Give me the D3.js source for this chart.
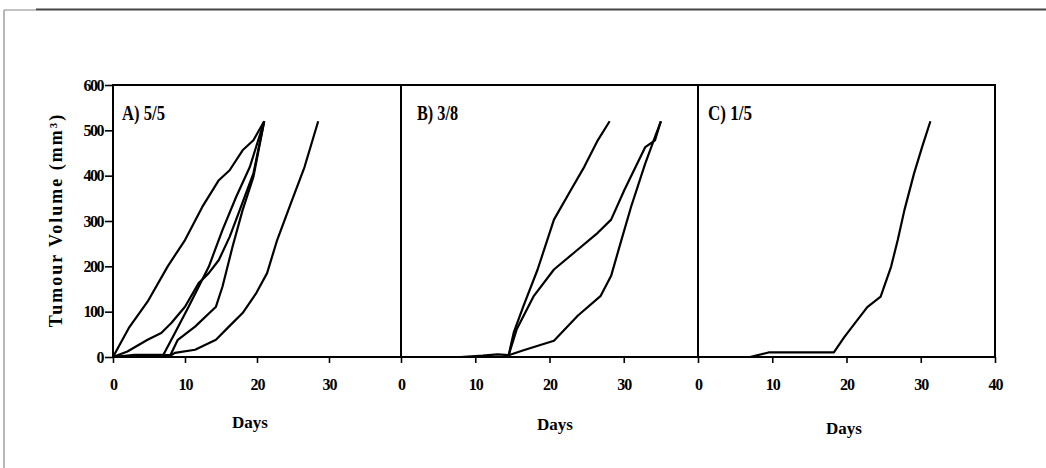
<!DOCTYPE html>
<html>
<head>
<meta charset="utf-8">
<script src="https://cdn.jsdelivr.net/npm/d3@7"></script>
<style>
  html, body { margin: 0; padding: 0; background: #fff; }
  svg { display: block; }
  text { font-family: "Liberation Serif", "Times New Roman", serif; font-weight: bold; fill: #000; }
</style>
</head>
<body>
<svg id="chart" width="1046" height="468"></svg>
<script>
// Tumour growth curves, days after inoculation vs volume (mm³)
const yTicks = [0, 100, 200, 300, 400, 500, 600];
const xTicksAB = [0, 10, 20, 30];
const xTicksC = [0, 10, 20, 30, 40];
const panelLabels = ["A) 5/5", "B) 3/8", "C) 1/5"];

// Panel A: five animals
const curveA1 = [[0,0],[2.2,64],[4.8,122],[7.6,200],[10,258],[12.4,331],[14.7,390],[16.2,412],[18,456],[19.5,478],[21,520]];
const curveA2 = [[0,0],[2,12],[4.8,38],[6.7,53],[8.1,75],[10,111],[11.9,163],[13.3,185],[14.7,214],[16.2,265],[17.6,324],[19.5,405],[21,520]];
const curveA3 = [[0,0],[3,5],[7,5],[8.6,53],[10.5,111],[11.9,155],[13.3,199],[15.2,280],[17.1,353],[19,419],[21,520]];
const curveA4 = [[0,0],[4,3],[8,5],[9,38],[11.4,67],[14.3,111],[15.2,155],[16.6,243],[18,324],[19.5,397],[21,520]];
const curveA5 = [[0,0],[8,3],[8.6,9],[11.4,16],[14.3,38],[16.1,67],[18,97],[19.9,141],[21.4,185],[22.8,258],[24.7,339],[26.6,419],[28.5,520]];

// Panel B: three growing tumours (remaining animals stay at zero)
const curveB0 = [[0,0],[40,0]];
const curveB1 = [[0,0],[8,0],[11,3],[13,6],[14.5,4],[15.2,55],[16.5,113],[18.4,193],[20.6,303],[22.9,369],[24.7,420],[26.5,478],[28.1,520]];
const curveB2 = [[14.5,4],[15.6,62],[17.9,135],[20.6,193],[23.3,230],[26.5,274],[28.3,303],[30.1,369],[32.9,463],[34.2,478],[35,520]];
const curveB3 = [[14.5,4],[16.5,15],[20.6,36],[23.8,91],[26.9,135],[28.3,179],[29.7,259],[31,332],[32.9,427],[34.2,485],[35,520]];

// Panel C: one growing tumour
const curveC0 = [[0,0],[40,0]];
const curveC1 = [[0,0],[7,0],[9.5,10],[18.3,10],[19.7,44],[20.6,63],[22.8,110],[24.6,133],[26,199],[26.9,258],[27.8,324],[29.1,405],[30.2,464],[31.3,520]];

const svg = d3.select("#chart");

// outer frame
svg.append("line").attr("x1", 4).attr("y1", 10).attr("x2", 36).attr("y2", 10)
  .attr("stroke", "#999").attr("stroke-width", 1.2);
svg.append("line").attr("x1", 36).attr("y1", 9.5).attr("x2", 1046).attr("y2", 9.5)
  .attr("stroke", "#444").attr("stroke-width", 2);
svg.append("line").attr("x1", 4).attr("y1", 10).attr("x2", 4).attr("y2", 468)
  .attr("stroke", "#888").attr("stroke-width", 1.2);

const yTop = 85, yBot = 357;
const y = d3.scaleLinear().domain([0, 600]).range([yBot, yTop]);

const panels = [
  { x0: 113, x1: 401, curves: [curveA1, curveA2, curveA3, curveA4, curveA5], ticks: xTicksAB, label: panelLabels[0], daysX: 250, daysY: 428, labelX: 122, labelW: 43 },
  { x0: 401, x1: 698, curves: [curveB0, curveB1, curveB2, curveB3], ticks: xTicksAB, label: panelLabels[1], daysX: 555, daysY: 430, labelX: 417, labelW: 41 },
  { x0: 698, x1: 995, curves: [curveC0, curveC1], ticks: xTicksC, label: panelLabels[2], daysX: 844, daysY: 434, labelX: 708, labelW: 44 }
];

panels.forEach(p => {
  const x = d3.scaleLinear().domain([0, 40]).range([p.x0, p.x1]);
  const g = svg.append("g");

  // panel box
  g.append("rect").attr("x", p.x0).attr("y", yTop)
    .attr("width", p.x1 - p.x0).attr("height", yBot - yTop)
    .attr("fill", "none").attr("stroke", "#000").attr("stroke-width", 2);

  // growth curves
  const line = d3.line().x(d => x(d[0])).y(d => y(d[1]));
  g.selectAll("path.curve").data(p.curves).join("path")
    .attr("class", "curve")
    .attr("d", line)
    .attr("fill", "none").attr("stroke", "#000")
    .attr("stroke-width", 2.2).attr("stroke-linejoin", "round");

  // x axis: ticks and labels
  const xAxis = d3.axisBottom(x).tickValues(p.ticks).tickSize(6).tickPadding(16)
    .tickFormat(d3.format("d"));
  const ax = g.append("g").attr("transform", `translate(0,${yBot})`).call(xAxis);
  ax.select(".domain").remove();
  ax.selectAll(".tick line").attr("stroke", "#000").attr("stroke-width", 1.6);
  ax.selectAll(".tick text")
    .style("font-size", "16px").style("font-family", "'Liberation Serif', serif")
    .style("font-weight", "bold").attr("letter-spacing", -1).attr("fill", "#000");

  // axis title
  g.append("text").attr("x", p.daysX).attr("y", p.daysY)
    .attr("text-anchor", "middle").style("font-size", "17px").text("Days");

  // panel label
  g.append("text").attr("x", p.labelX).attr("y", 120)
    .attr("textLength", p.labelW).attr("lengthAdjust", "spacingAndGlyphs")
    .style("font-size", "20px").text(p.label);
});

// y axis on the first panel
const yAxis = d3.axisLeft(y).tickValues(yTicks).tickSize(8).tickPadding(2).tickFormat(d3.format("d"));
const ay = svg.append("g").attr("transform", "translate(113,0)").call(yAxis);
ay.select(".domain").remove();
ay.selectAll(".tick line").attr("stroke", "#000").attr("stroke-width", 1.6);
ay.selectAll(".tick text")
  .style("font-size", "16px").style("font-family", "'Liberation Serif', serif")
  .style("font-weight", "bold").attr("letter-spacing", -1.5).attr("fill", "#000");

// y axis title
svg.append("text")
  .attr("transform", "translate(62,220) rotate(-90)")
  .attr("text-anchor", "middle")
  .attr("letter-spacing", 2)
  .style("font-size", "18px")
  .text("Tumour Volume (mm³)");
</script>
</body>
</html>
